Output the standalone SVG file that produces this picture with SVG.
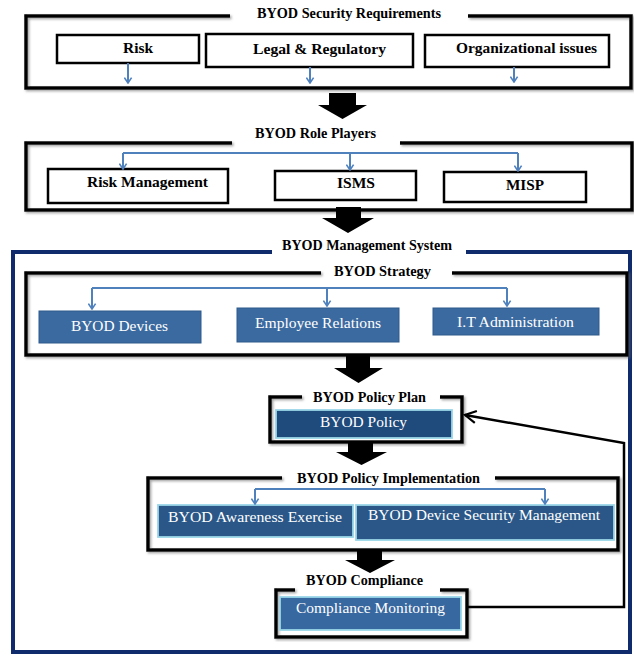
<svg xmlns="http://www.w3.org/2000/svg" width="634" height="656" viewBox="0 0 634 656">
<defs>
<filter id="sh" x="-5%" y="-5%" width="110%" height="115%">
<feDropShadow dx="1.5" dy="1.5" stdDeviation="1" flood-color="#666" flood-opacity="0.6"/>
</filter>
<marker id="ba" viewBox="0 0 10 10" refX="9" refY="5" markerWidth="9" markerHeight="9" markerUnits="userSpaceOnUse" orient="auto">
<path d="M3,1 L9,5 L3,9" fill="none" stroke="#4f81bd" stroke-width="1.8"/>
</marker>
<marker id="bk" viewBox="0 0 14 14" refX="12" refY="7" markerWidth="14" markerHeight="14" markerUnits="userSpaceOnUse" orient="auto">
<path d="M1,1 L12,7 L1,13" fill="none" stroke="#000" stroke-width="2.2"/>
</marker>
</defs>
<style>
.frame{fill:none;stroke:#000;stroke-width:3.5;filter:url(#sh)}
.navy{fill:none;stroke:#0f2b6b;stroke-width:4}
.wbox{fill:#fff;stroke:#000;stroke-width:2.5}
.bbox{fill:#3b6aa0;stroke:#2f5a8c;stroke-width:1}
.dbox{stroke:#9ad6e8;stroke-width:1.8}
text{font-family:"Liberation Serif",Tinos,"Times New Roman",Times,"Noto Serif","DejaVu Serif",Georgia,serif}
.title{font-weight:bold;font-size:14px;fill:#000;text-anchor:middle}
.lbl{font-weight:bold;font-size:15.5px;fill:#000;text-anchor:middle}
.wl{font-size:15.5px;fill:#fff;text-anchor:middle}
.conn{fill:none;stroke:#4f81bd;stroke-width:2}
.big{fill:#000}
</style>
<rect width="634" height="656" fill="#fff"/>

<g id="security-requirements">
<path class="frame" d="M230,16 H26 V88 H631 V16 H468"/>
<text class="title" x="349" y="18" textLength="184" lengthAdjust="spacingAndGlyphs">BYOD Security Requirements</text>
</g>
<g id="risk"><rect class="wbox" x="57" y="35" width="142" height="28"/><text class="lbl" x="138" y="53" textLength="30" lengthAdjust="spacingAndGlyphs">Risk</text></g>
<g id="legal"><rect class="wbox" x="206" y="34" width="207" height="33"/><text class="lbl" x="319.5" y="54" textLength="133" lengthAdjust="spacingAndGlyphs">Legal &amp; Regulatory</text></g>
<g id="organizational"><rect class="wbox" x="425" y="35" width="184" height="32"/><text class="lbl" x="526.5" y="53" textLength="141" lengthAdjust="spacingAndGlyphs">Organizational issues</text></g>

<g id="role-players">
<path class="frame" d="M232,143 H26 V210 H632 V143 H400"/>
<text class="title" x="315.5" y="138" textLength="121" lengthAdjust="spacingAndGlyphs">BYOD Role Players</text>
</g>
<g id="risk-management"><rect class="wbox" x="48" y="169" width="180" height="34"/><text class="lbl" x="147.5" y="187" textLength="121" lengthAdjust="spacingAndGlyphs">Risk Management</text></g>
<g id="isms"><rect class="wbox" x="275" y="171" width="141" height="29"/><text class="lbl" x="356" y="188" textLength="38" lengthAdjust="spacingAndGlyphs">ISMS</text></g>
<g id="misp"><rect class="wbox" x="444" y="172" width="142" height="30"/><text class="lbl" x="525" y="190" textLength="38" lengthAdjust="spacingAndGlyphs">MISP</text></g>

<g id="management-system">
<path class="navy" d="M272,252 H13 V652 H630 V252 H466"/>
<text class="title" x="367" y="250" textLength="170" lengthAdjust="spacingAndGlyphs">BYOD Management System</text>
</g>

<g id="strategy">
<path class="frame" d="M321,273 H26 V355 H627 V273 H452"/>
<text class="title" x="382.5" y="276" textLength="97" lengthAdjust="spacingAndGlyphs">BYOD Strategy</text>
</g>
<g id="byod-devices"><rect class="bbox" x="39" y="311" width="162" height="32"/><text class="wl" x="119.5" y="331" textLength="97" lengthAdjust="spacingAndGlyphs">BYOD Devices</text></g>
<g id="employee-relations"><rect class="bbox" x="237" y="308" width="162" height="34"/><text class="wl" x="318" y="328" textLength="126" lengthAdjust="spacingAndGlyphs">Employee Relations</text></g>
<g id="it-administration"><rect class="bbox" x="433" y="308" width="166" height="27"/><text class="wl" x="515.5" y="327" textLength="117" lengthAdjust="spacingAndGlyphs">I.T Administration</text></g>

<g id="policy-plan">
<path class="frame" d="M302,397 H270 V442 H462 V397 H440"/>
<text class="title" x="369.5" y="402" textLength="113" lengthAdjust="spacingAndGlyphs">BYOD Policy Plan</text>
</g>
<g id="byod-policy"><rect class="dbox" fill="#1f4a7c" x="276" y="410" width="176" height="28"/><text class="wl" x="363.5" y="427" textLength="87" lengthAdjust="spacingAndGlyphs">BYOD Policy</text></g>

<g id="policy-implementation">
<path class="frame" d="M282,478 H148 V550 H618 V478 H495"/>
<text class="title" x="388.5" y="483" textLength="183" lengthAdjust="spacingAndGlyphs">BYOD Policy Implementation</text>
</g>
<g id="awareness"><rect class="dbox" fill="#2a5788" x="158" y="505" width="195" height="32"/><text class="wl" x="255" y="522" textLength="174" lengthAdjust="spacingAndGlyphs">BYOD Awareness Exercise</text></g>
<g id="device-security"><rect class="dbox" fill="#2a5788" x="356" y="505" width="258" height="35"/><text class="wl" x="484" y="520" textLength="232" lengthAdjust="spacingAndGlyphs">BYOD Device Security Management</text></g>

<g id="compliance">
<path class="frame" d="M295,590 H276 V637 H467 V590 H440"/>
<text class="title" x="364.5" y="585" textLength="117" lengthAdjust="spacingAndGlyphs">BYOD Compliance</text>
</g>
<g id="compliance-monitoring"><rect class="dbox" fill="#3868a0" x="280" y="597" width="181" height="33"/><text class="wl" x="370.5" y="613" textLength="149" lengthAdjust="spacingAndGlyphs">Compliance Monitoring</text></g>

<g id="connectors">
<path class="conn" d="M128,63 V83" marker-end="url(#ba)"/>
<path class="conn" d="M310,67 V83" marker-end="url(#ba)"/>
<path class="conn" d="M514,67 V82" marker-end="url(#ba)"/>
<path class="conn" d="M123,153 H518"/>
<path class="conn" d="M123,153 V169" marker-end="url(#ba)"/>
<path class="conn" d="M518,153 V171" marker-end="url(#ba)"/>
<path class="conn" d="M350,153 V170" marker-end="url(#ba)"/>
<path class="conn" d="M92,288 H507"/>
<path class="conn" d="M92,288 V309" marker-end="url(#ba)"/>
<path class="conn" d="M507,288 V306" marker-end="url(#ba)"/>
<path class="conn" d="M327,288 V306" marker-end="url(#ba)"/>
<path class="conn" d="M255,489 H545"/>
<path class="conn" d="M255,489 V504" marker-end="url(#ba)"/>
<path class="conn" d="M545,489 V504" marker-end="url(#ba)"/>
<path class="big" d="M329,93 H356 V105 H367 L342.5,119 L318,105 H329 Z"/>
<path class="big" d="M336,207 H361 V218 H374 L348,233 L322,218 H336 Z"/>
<path class="big" d="M346,356 H370 V368 H383 L358.5,383 L334,368 H346 Z"/>
<path class="big" d="M348,442 H373 V452 H387 L361.5,465 L336,452 H348 Z"/>
<path class="big" d="M357,550 H382 V560 H395 L370,573 L345,560 H357 Z"/>
<path fill="none" stroke="#000" stroke-width="2.5" d="M467,607 H624 V443 L465,415" marker-end="url(#bk)"/>
</g>
</svg>
